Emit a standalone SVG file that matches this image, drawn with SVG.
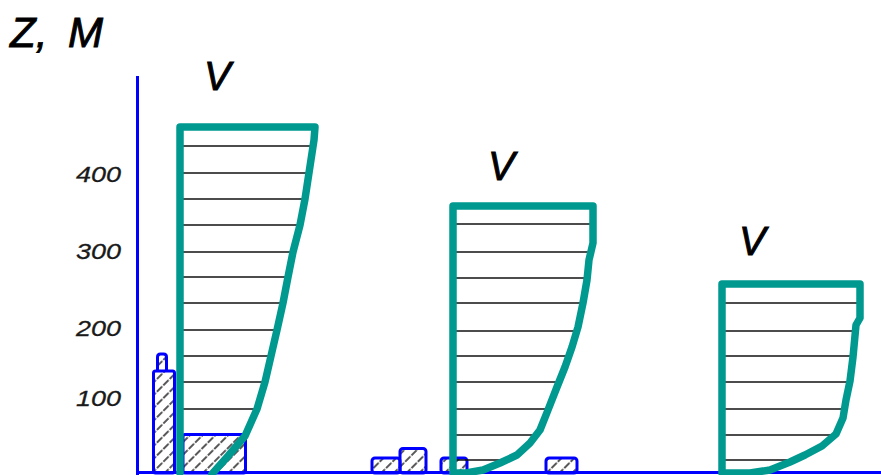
<svg xmlns="http://www.w3.org/2000/svg" width="881" height="475" viewBox="0 0 881 475">
<style>
.lbl{font-family:"Liberation Sans",Arial,sans-serif;font-style:italic;fill:#000;stroke:#000;stroke-width:0.9}
.num{font-family:"Liberation Sans",Arial,sans-serif;font-style:italic;font-size:22px;fill:#1a1a1a;stroke:#1a1a1a;stroke-width:0.3}
.blue{fill:none;stroke:#0000ff;stroke-width:3;stroke-linejoin:round}
.bld{fill:url(#hatch);stroke:#0000ff;stroke-width:3;stroke-linejoin:round}
.prof{fill:none;stroke:#009990;stroke-width:7.5;stroke-linejoin:round;stroke-linecap:round}
.h{stroke:#111;stroke-width:1.6}
</style>
<defs>
<pattern id="hatch" patternUnits="userSpaceOnUse" width="9" height="9" patternTransform="rotate(45)">
<line x1="1" y1="0" x2="1" y2="9" stroke="#000" stroke-width="1.3" stroke-dasharray="4 1.5"/>
</pattern>
</defs>
<rect width="881" height="475" fill="#fff"/>

<g id="titles">
<text class="lbl" x="10" y="47" font-size="42">Z, <tspan x="68">M</tspan></text>
<text class="lbl" x="204" y="90" font-size="40">V</text>
<text class="lbl" x="488" y="180" font-size="40">V</text>
<text class="lbl" x="739" y="255" font-size="40">V</text>
</g>

<g id="axis-labels">
<text class="num" x="76" y="182" textLength="45" lengthAdjust="spacingAndGlyphs">400</text>
<text class="num" x="76" y="259" textLength="45" lengthAdjust="spacingAndGlyphs">300</text>
<text class="num" x="76" y="336" textLength="45" lengthAdjust="spacingAndGlyphs">200</text>
<text class="num" x="76" y="406" textLength="45" lengthAdjust="spacingAndGlyphs">100</text>
</g>

<g id="buildings">
<path class="bld" d="M157.5,371 L157.5,357 Q157.5,354 160.5,354 L163.5,354 Q166.5,354 166.5,357 L166.5,371"/>
<rect class="bld" x="153.5" y="371" width="21" height="102" rx="2"/>
<rect class="bld" x="183" y="434.5" width="62.5" height="38.5" rx="2"/>
<rect class="bld" x="372" y="458" width="28" height="15" rx="3"/>
<rect class="bld" x="400" y="448.5" width="26" height="24.5" rx="3"/>
<rect class="bld" x="441" y="458" width="26" height="15" rx="3"/>
<rect class="bld" x="546" y="458" width="31" height="15" rx="3"/>
</g>

<g id="axes">
<line class="blue" x1="137.5" y1="76" x2="137.5" y2="475" stroke-width="3.5"/>
<line class="blue" x1="137" y1="472.5" x2="881" y2="472.5"/>
</g>

<g id="profile1">
<g class="h">
<line x1="180" y1="146" x2="313" y2="146"/>
<line x1="182" y1="173" x2="309" y2="173"/>
<line x1="180" y1="199" x2="305" y2="199"/>
<line x1="182" y1="225" x2="300" y2="225"/>
<line x1="180" y1="252" x2="293" y2="252"/>
<line x1="182" y1="277" x2="288" y2="277"/>
<line x1="180" y1="303" x2="283" y2="303"/>
<line x1="182" y1="330" x2="277" y2="330"/>
<line x1="180" y1="356" x2="271" y2="356"/>
<line x1="182" y1="382" x2="265" y2="382"/>
<line x1="180" y1="409" x2="257" y2="409"/>
</g>
<path class="prof" d="M180,473 L180,127 L315,127 L314,140 L305,199 L300,225 L293,252 L288,277 L283,303 L277,330 L271,356 L265,382 L257,409 L245,436 L228,456 L212,474"/>
</g>

<g id="profile2">
<g class="h">
<line x1="455" y1="224" x2="593" y2="224"/>
<line x1="453" y1="252" x2="591" y2="252"/>
<line x1="455" y1="278" x2="587" y2="278"/>
<line x1="453" y1="303" x2="583" y2="303"/>
<line x1="455" y1="331" x2="577" y2="331"/>
<line x1="453" y1="356" x2="569" y2="356"/>
<line x1="455" y1="382" x2="559" y2="382"/>
<line x1="453" y1="409" x2="548" y2="409"/>
<line x1="455" y1="435" x2="537" y2="435"/>
<line x1="455" y1="460" x2="510" y2="460"/>
</g>
<path class="prof" d="M453,473 L453,206 L593,206 L593,243 L589,260 L587,280 L583,303 L578,327 L572,347 L565,367 L557,387 L548,410 L540,430 L530,443 L517,455 L500,463 L483,470 L466,473 Z"/>
</g>

<g id="profile3">
<g class="h">
<line x1="722" y1="303" x2="860" y2="303"/>
<line x1="725" y1="331" x2="855" y2="331"/>
<line x1="722" y1="356" x2="853" y2="356"/>
<line x1="725" y1="382" x2="850" y2="382"/>
<line x1="722" y1="409" x2="844" y2="409"/>
<line x1="725" y1="435" x2="835" y2="435"/>
<line x1="722" y1="460" x2="794" y2="460"/>
</g>
<path class="prof" d="M722,473 L722,284 L860,284 L860,318 L856,325 L853,357 L850,381 L846,400 L843,418 L836,434 L822,446 L805,455 L790,462 L770,470 L750,473 Z"/>
</g>
</svg>
